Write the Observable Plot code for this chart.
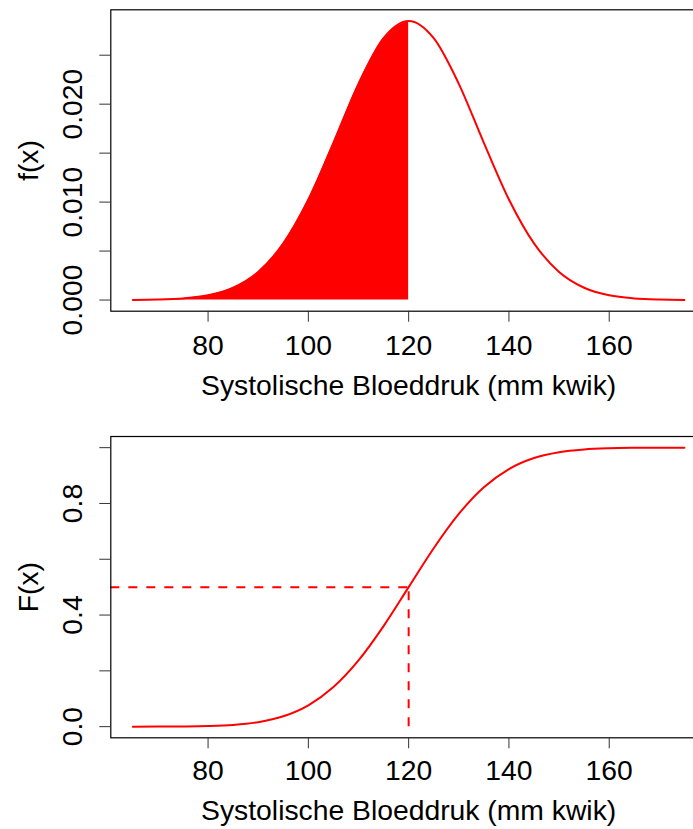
<!DOCTYPE html>
<html>
<head>
<meta charset="utf-8">
<script src="https://cdn.jsdelivr.net/npm/d3@7"></script>
<script src="https://cdn.jsdelivr.net/npm/@observablehq/plot@0.6"></script>
<style>
  html, body { margin: 0; padding: 0; background: white; overflow: hidden; }
  .panel { width: 693px; overflow: hidden; }
  .panel svg { max-width: none !important; display: block; }
</style>
</head>
<body>
<div id="top" class="panel"></div>
<div id="bottom" class="panel"></div>
<script>
// Blood pressure values (mm Hg) and read-off curve values
const xValues = [65, 70, 75, 80, 85, 90, 95, 100, 105, 110, 115, 120, 125, 130, 135, 140, 145, 150, 155, 160, 165, 170, 175];
const densityValues = [0.0000127, 0.0000484, 0.000163, 0.000481, 0.001252, 0.002868, 0.005788, 0.010270, 0.016052, 0.022079, 0.026735, 0.028496, 0.026735, 0.022079, 0.016052, 0.010270, 0.005788, 0.002868, 0.001252, 0.000481, 0.000163, 0.0000484, 0.0000127];
const cdfValues = [0.00004, 0.00018, 0.00065, 0.00214, 0.00621, 0.01606, 0.03707, 0.07656, 0.14202, 0.23753, 0.36049, 0.5, 0.63951, 0.76247, 0.85798, 0.92344, 0.96293, 0.98394, 0.99379, 0.99786, 0.99935, 0.99982, 0.99996];
const cutX = 120;
const cutF = 0.5;

const xTicks = [80, 100, 120, 140, 160];
const topYTicks = [0, 0.005, 0.010, 0.015, 0.020, 0.025];
const topYLabelValues = [0, 0.010, 0.020];
const topYLabels = ["0.000", "0.010", "0.020"];
const botYTicks = [0, 0.2, 0.4, 0.6, 0.8, 1.0];
const botYLabelValues = [0, 0.4, 0.8];
const botYLabels = ["0.0", "0.4", "0.8"];

const xTitle = "Systolische Bloeddruk (mm kwik)";
const topYTitle = "f(x)";
const botYTitle = "F(x)";

const rows = xValues.map((x, i) => ({x, f: densityValues[i], F: cdfValues[i]}));
const shaded = rows.filter(d => d.x <= cutX);

const RED = "#ff0000";
const FONT = "Liberation Sans, Arial, Helvetica, sans-serif";
const FS = 28.3;
const xDomain = [60.6, 179.4];
const WIDTH = 706;

function panel({yDomain, yTicks, yLabelValues, yLabels, yTitle, height, marginTop, marginBottom, tickDy, titleDy, marks}) {
  return Plot.plot({
    width: WIDTH,
    height,
    marginLeft: 110.3,
    marginRight: 0,
    marginTop,
    marginBottom,
    style: {fontFamily: FONT, background: "white", overflow: "hidden"},
    x: {domain: xDomain},
    y: {domain: yDomain},
    marks: [
      ...marks,
      Plot.frame({stroke: "#000", strokeWidth: 1.2}),
      Plot.axisX({ticks: xTicks, tickSize: 11, tickFormat: () => "", stroke: "#333", label: null}),
      Plot.axisY({ticks: yTicks, tickSize: 11, tickFormat: () => "", stroke: "#333", label: null}),
      Plot.text(xTicks, {x: d => d, frameAnchor: "bottom", dy: tickDy, lineAnchor: "bottom", textAnchor: "middle", fontSize: FS, fill: "#000", text: d => String(d)}),
      Plot.text(yLabelValues, {y: d => d, frameAnchor: "left", dx: -28.6, rotate: -90, lineAnchor: "bottom", textAnchor: "middle", fontSize: FS, fill: "#000", text: (d, i) => yLabels[i]}),
      Plot.text([xTitle], {frameAnchor: "bottom", dy: titleDy, lineAnchor: "bottom", textAnchor: "middle", fontSize: FS, fill: "#000", text: d => d}),
      Plot.text([yTitle], {frameAnchor: "left", dx: -72.7, rotate: -90, lineAnchor: "bottom", textAnchor: "middle", fontSize: FS, fill: "#000", text: d => d})
    ]
  });
}

const topPlot = panel({
  yDomain: [-0.00114, 0.029636],
  yTicks: topYTicks, yLabelValues: topYLabelValues, yLabels: topYLabels, yTitle: topYTitle,
  height: 427, marginTop: 9.3, marginBottom: 116.3, tickDy: 43.6, titleDy: 83.6,
  marks: [
    Plot.areaY(shaded, {x: "x", y: "f", fill: RED, curve: "monotone-x"}),
    Plot.line(rows, {x: "x", y: "f", stroke: RED, strokeWidth: 2, curve: "monotone-x"})
  ]
});

const botPlot = panel({
  yDomain: [-0.04, 1.04],
  yTicks: botYTicks, yLabelValues: botYLabelValues, yLabels: botYLabels, yTitle: botYTitle,
  height: 402, marginTop: 9, marginBottom: 91.7, tickDy: 42, titleDy: 82,
  marks: [
    Plot.line(rows, {x: "x", y: "F", stroke: RED, strokeWidth: 2, curve: "monotone-x"}),
    Plot.ruleY([cutF], {x1: xDomain[0], x2: cutX, stroke: RED, strokeWidth: 2, strokeDasharray: "9,9"}),
    Plot.ruleX([cutX], {y1: 0, y2: cutF, stroke: RED, strokeWidth: 2, strokeDasharray: "9,9"})
  ]
});

document.getElementById("top").appendChild(topPlot);
document.getElementById("bottom").appendChild(botPlot);
</script>
</body>
</html>
